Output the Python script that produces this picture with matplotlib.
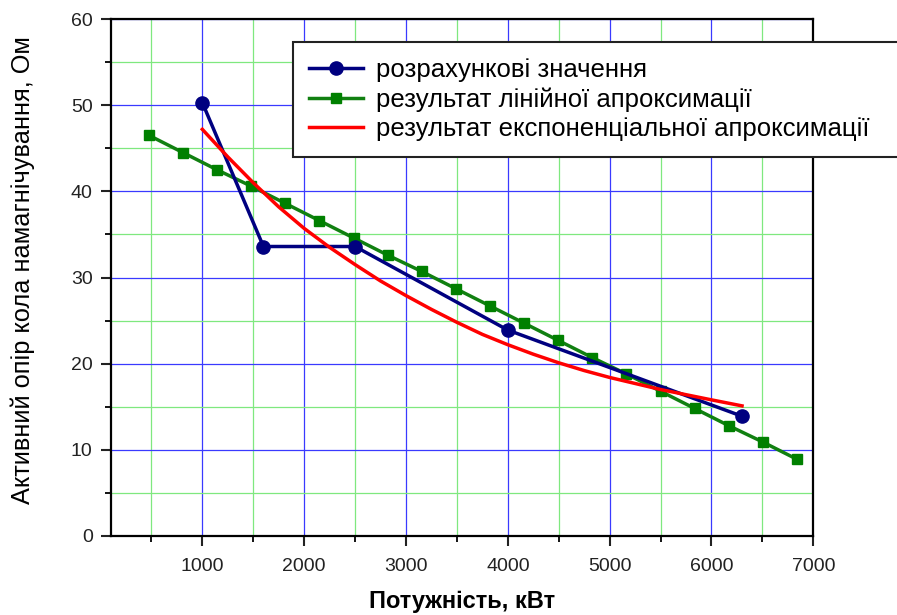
import matplotlib
matplotlib.use("Agg")
import matplotlib.pyplot as plt
from matplotlib.ticker import MultipleLocator

plt.rcParams['font.family'] = ['Liberation Sans', 'DejaVu Sans']

# Calculated values
calc_x = [1000, 1600, 2500, 4000, 6300]
calc_y = [50.3, 33.6, 33.6, 23.9, 13.9]

# Linear approximation
lin_x = [476, 810, 1145, 1480, 1815, 2150, 2485, 2820, 3155, 3490,
         3825, 4160, 4495, 4830, 5165, 5500, 5835, 6170, 6505, 6840]
lin_y = [46.5, 44.5, 42.5, 40.6, 38.6, 36.6, 34.6, 32.6, 30.7, 28.7,
         26.7, 24.7, 22.7, 20.7, 18.8, 16.8, 14.8, 12.8, 10.9, 8.9]

# Exponential approximation
exp_x = [1000, 1250, 1500, 1750, 2000, 2250, 2500, 2750, 3000, 3250, 3500,
         3750, 4000, 4250, 4500, 4750, 5000, 5250, 5500, 5750, 6000, 6300]
exp_y = [47.2, 44.0, 41.0, 38.2, 35.7, 33.5, 31.5, 29.6, 27.9, 26.3, 24.8,
         23.4, 22.2, 21.1, 20.1, 19.2, 18.4, 17.7, 17.0, 16.4, 15.8, 15.1]

labels = ["розрахункові значення",
          "результат лінійної апроксимації",
          "результат експоненціальної апроксимації"]

fig = plt.figure(figsize=(8.97, 6.15), dpi=100)
ax = fig.add_axes([0.1234, 0.1285, 0.9067 - 0.1234, 0.969 - 0.1285])

ax.set_xlim(100, 7000)
ax.set_ylim(0, 60)
ax.xaxis.set_major_locator(MultipleLocator(1000))
ax.xaxis.set_minor_locator(MultipleLocator(500))
ax.yaxis.set_major_locator(MultipleLocator(10))
ax.yaxis.set_minor_locator(MultipleLocator(5))

ax.grid(which='minor', color='#7fe87f', linewidth=0.9)
ax.grid(which='major', color='#3a3aff', linewidth=0.9)
ax.set_axisbelow(True)

ax.plot(calc_x, calc_y, color='#000080', linewidth=2.5, marker='o',
        markersize=9.5, label=labels[0], zorder=4)
ax.plot(lin_x, lin_y, color='#118011', linewidth=2.5, marker='s',
        markersize=7.5, markerfacecolor='#008000', markeredgecolor='#008000',
        label=labels[1], zorder=3)
ax.plot(exp_x, exp_y, color='#ff0000', linewidth=2.5, label=labels[2], zorder=5)

for s in ax.spines.values():
    s.set_linewidth(1.6)
    s.set_color('black')

ax.tick_params(which='major', direction='out', length=7, width=1.5,
               labelsize=14, colors='#222222')
ax.tick_params(axis='x', which='major', pad=9)
ax.tick_params(axis='y', which='major', pad=6)
ax.tick_params(which='minor', direction='out', length=4.5, width=1.3)

ax.set_xticks([1000, 2000, 3000, 4000, 5000, 6000, 7000])
ax.set_xlabel("Потужність, кВт", fontsize=17, fontweight='bold', labelpad=11)
ax.set_ylabel("Активний опір кола намагнічування, Ом", fontsize=18.3)
ax.yaxis.set_label_coords(-0.108, 0.515)

leg = fig.legend(loc='upper left', mode='expand',
                 bbox_to_anchor=(293 / 897, 1 - 42 / 615, 640 / 897, 0.0),
                 bbox_transform=fig.transFigure, fontsize=18.5, frameon=True,
                 fancybox=False, shadow=False, handlelength=2.1,
                 borderpad=0.62, labelspacing=0.2, handletextpad=0.5,
                 borderaxespad=0)
leg.get_frame().set_edgecolor('#222222')
leg.get_frame().set_linewidth(1.5)
leg.get_frame().set_facecolor('white')
leg.get_frame().set_alpha(1)

fig.savefig("out.png", dpi=100)
